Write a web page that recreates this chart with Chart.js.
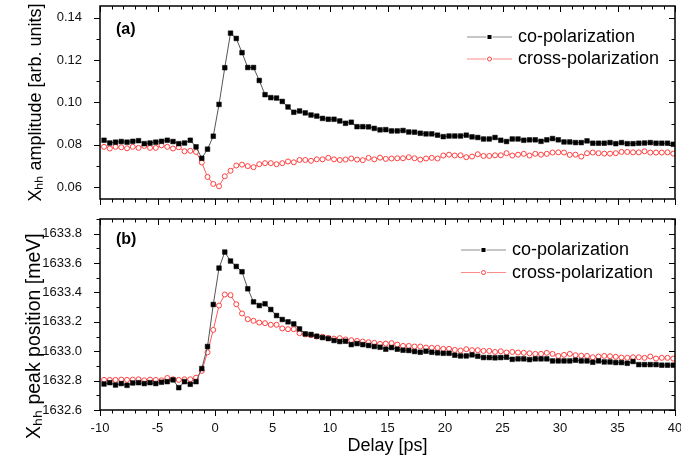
<!DOCTYPE html>
<html>
<head>
<meta charset="utf-8">
<script src="https://cdn.jsdelivr.net/npm/chart.js@4/dist/chart.umd.min.js"></script>
<style>
  html, body { margin: 0; padding: 0; background: #fff; }
  #wrap { position: relative; width: 681px; height: 459px; background: #fff; overflow: hidden; }
  #wrap canvas { position: absolute; left: 0; }
  #c1 { top: 0; }
  #c2 { top: 210px; }
</style>
</head>
<body>
<div id="wrap">
  <canvas id="c1" width="681" height="210"></canvas>
  <canvas id="c2" width="681" height="249"></canvas>
</div>
<script>
// ---------------- data ----------------
const delays = [
  -9.65,-9.15,-8.65,-8.15,-7.65,-7.15,-6.65,-6.15,-5.65,-5.15,
  -4.65,-4.15,-3.65,-3.15,-2.65,-2.15,-1.65,-1.15,-0.65,-0.15,
  0.35,0.85,1.35,1.85,2.35,2.85,3.35,3.85,4.35,4.85,
  5.35,5.85,6.35,6.85,7.35,7.85,8.35,8.85,9.35,9.85,
  10.35,10.85,11.35,11.85,12.35,12.85,13.35,13.85,14.35,14.85,
  15.35,15.85,16.35,16.85,17.35,17.85,18.35,18.85,19.35,19.85,
  20.35,20.85,21.35,21.85,22.35,22.85,23.35,23.85,24.35,24.85,
  25.35,25.85,26.35,26.85,27.35,27.85,28.35,28.85,29.35,29.85,
  30.35,30.85,31.35,31.85,32.35,32.85,33.35,33.85,34.35,34.85,
  35.35,35.85,36.35,36.85,37.35,37.85,38.35,38.85,39.35,39.85
];

const amplitudeCo = [
  0.0822,0.0809,0.0813,0.0816,0.0813,0.0817,0.0820,0.0806,0.0809,0.0813,
  0.0817,0.0822,0.0816,0.0806,0.0809,0.0822,0.0791,0.0737,0.0780,0.0841,
  0.0991,0.1164,0.1327,0.1302,0.1235,0.1165,0.1165,0.1104,0.1037,0.1023,
  0.1021,0.1005,0.0979,0.0954,0.0960,0.0951,0.0941,0.0936,0.0925,0.0921,
  0.0921,0.0913,0.0902,0.0907,0.0886,0.0886,0.0885,0.0878,0.0871,0.0872,
  0.0866,0.0866,0.0868,0.0861,0.0860,0.0855,0.0852,0.0852,0.0846,0.0839,
  0.0842,0.0842,0.0842,0.0846,0.0838,0.0835,0.0828,0.0828,0.0835,0.0822,
  0.0816,0.0828,0.0828,0.0822,0.0824,0.0824,0.0817,0.0824,0.0830,0.0824,
  0.0814,0.0814,0.0811,0.0811,0.0819,0.0808,0.0808,0.0808,0.0811,0.0806,
  0.0811,0.0806,0.0806,0.0808,0.0809,0.0811,0.0808,0.0808,0.0808,0.0803
];

const amplitudeCross = [
  0.0791,0.0783,0.0791,0.0789,0.0784,0.0791,0.0786,0.0795,0.0786,0.0786,
  0.0798,0.0791,0.0783,0.0789,0.0770,0.0772,0.0767,0.0717,0.0649,0.0616,
  0.0605,0.0652,0.0678,0.0703,0.0707,0.0700,0.0695,0.0709,0.0714,0.0714,
  0.0709,0.0714,0.0722,0.0718,0.0729,0.0729,0.0725,0.0732,0.0732,0.0739,
  0.0732,0.0729,0.0731,0.0736,0.0731,0.0728,0.0739,0.0732,0.0740,0.0734,
  0.0736,0.0737,0.0737,0.0742,0.0737,0.0731,0.0736,0.0739,0.0736,0.0750,
  0.0754,0.0750,0.0751,0.0742,0.0745,0.0756,0.0748,0.0748,0.0751,0.0751,
  0.0761,0.0750,0.0754,0.0758,0.0750,0.0758,0.0754,0.0758,0.0764,0.0765,
  0.0764,0.0753,0.0754,0.0745,0.0761,0.0764,0.0761,0.0759,0.0759,0.0761,
  0.0767,0.0767,0.0765,0.0765,0.0770,0.0764,0.0764,0.0764,0.0765,0.0759
];

const peakCo = [
  1632.777,1632.786,1632.770,1632.780,1632.768,1632.784,1632.786,1632.780,1632.786,1632.780,
  1632.789,1632.793,1632.805,1632.752,1632.793,1632.775,1632.793,1632.882,1633.032,1633.318,
  1633.566,1633.675,1633.614,1633.577,1633.541,1633.425,1633.336,1633.311,1633.323,1633.284,
  1633.243,1633.216,1633.200,1633.186,1633.152,1633.118,1633.114,1633.102,1633.093,1633.086,
  1633.073,1633.066,1633.068,1633.045,1633.052,1633.045,1633.039,1633.032,1633.027,1633.014,
  1633.025,1633.014,1633.007,1633.005,1632.998,1632.993,1633.000,1632.993,1632.989,1632.986,
  1632.986,1632.973,1632.968,1632.968,1632.975,1632.966,1632.957,1632.957,1632.955,1632.957,
  1632.959,1632.945,1632.948,1632.948,1632.943,1632.948,1632.948,1632.948,1632.934,1632.934,
  1632.934,1632.934,1632.939,1632.934,1632.934,1632.925,1632.934,1632.927,1632.927,1632.923,
  1632.923,1632.918,1632.930,1632.909,1632.909,1632.909,1632.909,1632.905,1632.905,1632.905
];

const peakCross = [
  1632.805,1632.805,1632.805,1632.807,1632.805,1632.807,1632.809,1632.802,1632.807,1632.805,
  1632.802,1632.818,1632.809,1632.805,1632.809,1632.809,1632.820,1632.866,1632.993,1633.145,
  1633.311,1633.386,1633.382,1633.320,1633.257,1633.218,1633.207,1633.195,1633.191,1633.180,
  1633.180,1633.155,1633.150,1633.150,1633.123,1633.114,1633.109,1633.100,1633.098,1633.091,
  1633.086,1633.089,1633.080,1633.075,1633.070,1633.066,1633.061,1633.057,1633.050,1633.052,
  1633.055,1633.045,1633.036,1633.036,1633.032,1633.032,1633.025,1633.023,1633.023,1633.016,
  1633.016,1633.009,1633.005,1633.014,1633.007,1633.007,1633.002,1633.002,1632.995,1633.000,
  1632.991,1632.995,1632.991,1632.989,1632.986,1632.982,1632.982,1632.989,1632.982,1632.968,
  1632.975,1632.982,1632.973,1632.970,1632.968,1632.959,1632.964,1632.968,1632.966,1632.962,
  1632.957,1632.955,1632.959,1632.959,1632.955,1632.964,1632.950,1632.955,1632.955,1632.950
];

const seriesLabels = ['co-polarization', 'cross-polarization'];
const panelLabels = ['(a)', '(b)'];
const xTickValues = [-10, -5, 0, 5, 10, 15, 20, 25, 30, 35, 40];
const yTicksAmplitude = [0.06, 0.08, 0.10, 0.12, 0.14];
const yTicksPeak = [1632.6, 1632.8, 1633.0, 1633.2, 1633.4, 1633.6, 1633.8];
const xTitle = 'Delay [ps]';
const yTitleAmplitude = 'X\u2095\u2095 amplitude [arb. units]';
const yTitlePeak = 'X\u2095\u2095 peak position [meV]        ';

// ---------------- styling / helpers ----------------
const FONT = "'Liberation Sans', Arial, Helvetica, sans-serif";
Chart.defaults.font.family = FONT;
Chart.defaults.color = '#000';

function pts(ys) { return delays.map((d, i) => ({ x: d, y: ys[i] })); }

function makeDatasets(co, cross) {
  return [
    {
      label: seriesLabels[0], data: pts(co),
      borderColor: '#555555', borderWidth: 1, legendLine: '#8c8c8c',
      pointStyle: 'rect', pointRadius: 3.3, pointBackgroundColor: '#000', pointBorderColor: '#000', pointBorderWidth: 0.5,
      showLine: true, tension: 0
    },
    {
      label: seriesLabels[1], data: pts(cross),
      borderColor: '#ff5a5a', borderWidth: 1, legendLine: '#ff8a8a',
      pointStyle: 'circle', pointRadius: 2.5, pointBackgroundColor: '#fff', pointBorderColor: '#ff4040', pointBorderWidth: 1,
      showLine: true, tension: 0
    }
  ];
}

const frameTicks = {
  id: 'frameTicks',
  afterDraw(chart, args, o) {
    const { ctx, chartArea: a, scales: { x, y } } = chart;
    ctx.save();
    ctx.strokeStyle = '#000';
    ctx.lineWidth = 1;
    const seg = (x1, y1, x2, y2) => { ctx.beginPath(); ctx.moveTo(x1, y1); ctx.lineTo(x2, y2); ctx.stroke(); };
    const MAJ = 6, MIN = 3.5;
    // x ticks: outward at bottom, inward at top
    let r = Math.round(o.xMajor / o.xMinor);
    for (let n = Math.ceil(x.min / o.xMinor - 1e-6); n <= Math.floor(x.max / o.xMinor + 1e-6); n++) {
      const px = Math.round(x.getPixelForValue(n * o.xMinor)) + 0.5;
      const L = (n % r === 0) ? MAJ : MIN;
      seg(px, a.bottom, px, a.bottom + L);
      seg(px, a.top, px, a.top + L);
    }
    // y ticks: outward at left, inward at right
    r = Math.round(o.yMajor / o.yMinor);
    for (let n = Math.ceil(y.min / o.yMinor - 1e-6); n <= Math.floor(y.max / o.yMinor + 1e-6); n++) {
      const py = Math.round(y.getPixelForValue(n * o.yMinor)) + 0.5;
      const L = (n % r === 0) ? MAJ : MIN;
      seg(a.left, py, a.left - L, py);
      seg(a.right, py, a.right - L, py);
    }
    ctx.lineWidth = 1.5;
    ctx.strokeRect(a.left, a.top, a.right - a.left, a.bottom - a.top);
    ctx.restore();
  }
};

const extras = {
  id: 'extras',
  afterDraw(chart, args, o) {
    const ctx = chart.ctx;
    ctx.save();
    ctx.fillStyle = '#000';
    ctx.textBaseline = 'middle';
    ctx.textAlign = 'left';
    ctx.font = 'bold 16px ' + FONT;
    ctx.fillText(o.panel, o.panelX, o.panelY);
    ctx.font = '18px ' + FONT;
    chart.data.datasets.forEach((ds, i) => {
      const yy = o.legY + i * o.legGap;
      ctx.strokeStyle = ds.legendLine;
      ctx.lineWidth = 1;
      ctx.beginPath(); ctx.moveTo(o.legX, yy); ctx.lineTo(o.legX + 45, yy); ctx.stroke();
      const cx = o.legX + 22.5;
      if (ds.pointStyle === 'rect') {
        ctx.fillStyle = '#fff'; ctx.fillRect(cx - 3, yy - 2, 6, 4);
        ctx.fillStyle = ds.pointBackgroundColor; ctx.fillRect(cx - 2, yy - 2, 4, 4);
      } else {
        ctx.fillStyle = '#fff'; ctx.fillRect(cx - 3.5, yy - 3, 7, 6);
        ctx.strokeStyle = ds.pointBorderColor;
        ctx.beginPath(); ctx.arc(cx, yy, 2, 0, Math.PI * 2); ctx.stroke();
      }
      ctx.fillStyle = '#000';
      ctx.fillText(ds.label, o.legX + 51, yy + 0.5);
    });
    ctx.restore();
  }
};

function zeroPad(s) { s.paddingLeft = 0; s.paddingRight = 0; s.paddingTop = 0; s.paddingBottom = 0; }

function yScale(min, max, ticks, digits, title, titleSize, titlePad) {
  return {
    type: 'linear', position: 'left', min, max,
    grid: { display: false, drawTicks: false }, border: { display: false },
    afterBuildTicks: s => { s.ticks = ticks.map(v => ({ value: v })); },
    ticks: { padding: 18, font: { size: 13 }, color: '#111', callback: v => Number(v).toFixed(digits) },
    title: { display: true, text: title, font: { size: titleSize }, color: '#000', padding: { top: titlePad, bottom: 0 } },
    afterFit: s => { s.width = 100; zeroPad(s); }
  };
}

// ---------------- top chart ----------------
new Chart(document.getElementById('c1'), {
  type: 'scatter',
  data: { datasets: makeDatasets(amplitudeCo, amplitudeCross) },
  options: {
    responsive: false, animation: false, devicePixelRatio: 1,
    layout: { padding: { left: 0, right: 6, top: 6, bottom: 0 } },
    plugins: {
      legend: { display: false }, tooltip: { enabled: false },
      frameTicks: { xMinor: 1, xMajor: 5, yMinor: 0.01, yMajor: 0.02 },
      extras: { panel: panelLabels[0], panelX: 116, panelY: 30, legX: 467, legY: 37, legGap: 22 }
    },
    scales: {
      x: {
        type: 'linear', position: 'bottom', min: -10, max: 40,
        grid: { display: false, drawTicks: false }, border: { display: false },
        ticks: { display: false },
        afterFit: s => { s.height = 11; zeroPad(s); }
      },
      y: yScale(0.0545, 0.1455, yTicksAmplitude, 2, yTitleAmplitude, 18, 25)
    }
  },
  plugins: [frameTicks, extras]
});

// ---------------- bottom chart ----------------
new Chart(document.getElementById('c2'), {
  type: 'scatter',
  data: { datasets: makeDatasets(peakCo, peakCross) },
  options: {
    responsive: false, animation: false, devicePixelRatio: 1,
    layout: { padding: { left: 0, right: 6, top: 9, bottom: 0 } },
    plugins: {
      legend: { display: false }, tooltip: { enabled: false },
      frameTicks: { xMinor: 1, xMajor: 5, yMinor: 0.1, yMajor: 0.2 },
      extras: { panel: panelLabels[1], panelX: 116, panelY: 30, legX: 461, legY: 40, legGap: 22.5 }
    },
    scales: {
      x: {
        type: 'linear', position: 'bottom', min: -10, max: 40,
        grid: { display: false, drawTicks: false }, border: { display: false },
        afterBuildTicks: s => { s.ticks = xTickValues.map(v => ({ value: v })); },
        ticks: { padding: 11, font: { size: 13 }, color: '#111', maxRotation: 0, autoSkip: false },
        title: { display: true, text: xTitle, font: { size: 18 }, color: '#000', padding: { top: 0, bottom: 2 } },
        afterFit: s => { s.height = 49; zeroPad(s); }
      },
      y: yScale(1632.6, 1633.9, yTicksPeak, 1, yTitlePeak, 19.5, 22.5)
    }
  },
  plugins: [frameTicks, extras]
});
</script>
</body>
</html>
